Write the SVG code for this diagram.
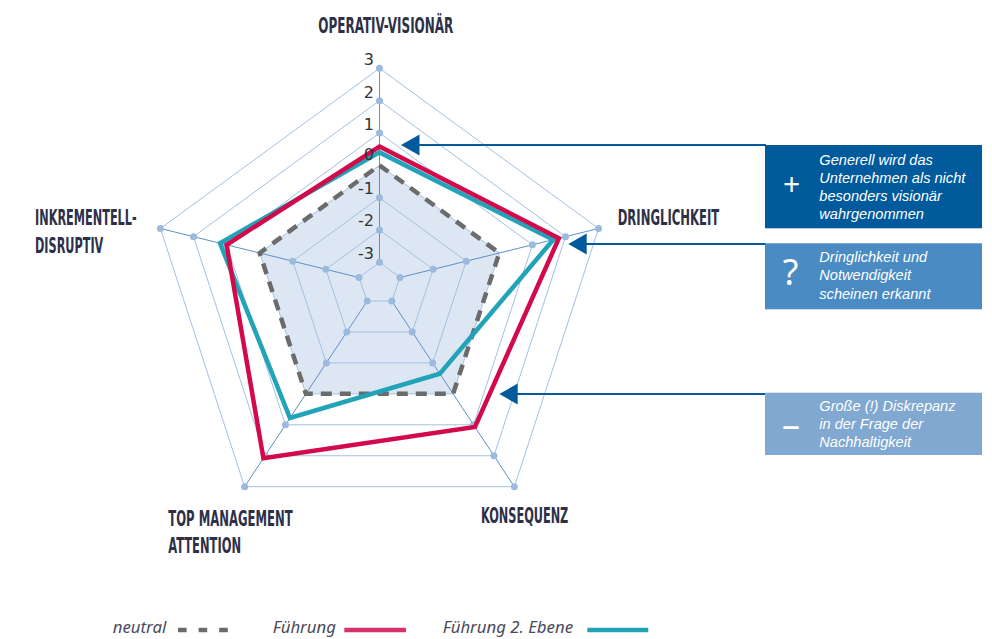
<svg xmlns="http://www.w3.org/2000/svg" width="992" height="639" viewBox="0 0 992 639">
<style>
.ring{fill:none;stroke:#a3c0e2;stroke-width:1}
.spoke{stroke:#5b90c8;stroke-width:1}
.dot{fill:#9bbadd}
.num{font-family:"DejaVu Sans",sans-serif;font-size:16px;fill:#333;text-anchor:end}
.axis{font-family:"Liberation Sans Narrow","DejaVu Sans Condensed","Liberation Sans",sans-serif;font-weight:bold;font-size:21px;fill:#2d3047}
.box-t{font-family:"Liberation Sans","Noto Sans",sans-serif;font-style:italic;font-size:14.6px;fill:#fff}
.sym{font-family:"Noto Sans","DejaVu Sans",sans-serif;fill:#fff;text-anchor:middle}
.leg{font-family:"Noto Sans","Open Sans",sans-serif;font-style:italic;font-size:16.8px;fill:#4a4b5c}
.conn{stroke:#005a9c;stroke-width:2;fill:none}
.head{fill:#005a9c}
</style>
<rect width="992" height="639" fill="#fff"/>
<g id="radar-grid">
<polygon points="379.5,165.31 499.3,252.99 453.09,393.85 305.91,393.85 259.7,252.99" fill="#dde7f3"/>
<polygon class="ring" points="379.5,262.3 400,277.5 391.8,301 367.2,301 359,277.5"/>
<polygon class="ring" points="379.5,229.97 433.1,269.33 412.23,331.95 346.77,331.95 325.9,269.33"/>
<polygon class="ring" points="379.5,197.64 466.2,261.16 432.66,362.9 326.34,362.9 292.8,261.16"/>
<polygon class="ring" points="379.5,165.31 499.3,252.99 453.09,393.85 305.91,393.85 259.7,252.99"/>
<polygon class="ring" points="379.5,132.98 532.4,244.82 473.52,424.8 285.48,424.8 226.6,244.82"/>
<polygon class="ring" points="379.5,100.65 565.5,236.65 493.95,455.75 265.05,455.75 193.5,236.65"/>
<polygon class="ring" points="379.5,68.32 598.6,228.48 514.38,486.7 244.62,486.7 160.4,228.48"/>
<line class="spoke" x1="379.5" y1="262.3" x2="379.5" y2="68.32"/>
<line class="spoke" x1="400" y1="277.5" x2="598.6" y2="228.48"/>
<line class="spoke" x1="391.8" y1="301" x2="514.38" y2="486.7"/>
<line class="spoke" x1="367.2" y1="301" x2="244.62" y2="486.7"/>
<line class="spoke" x1="359" y1="277.5" x2="160.4" y2="228.48"/>
<g id="grid-dots">
<circle class="dot" cx="379.5" cy="262.3" r="3.5"/><circle class="dot" cx="400" cy="277.5" r="3.5"/><circle class="dot" cx="391.8" cy="301" r="3.5"/><circle class="dot" cx="367.2" cy="301" r="3.5"/><circle class="dot" cx="359" cy="277.5" r="3.5"/>
<circle class="dot" cx="379.5" cy="229.97" r="3.5"/><circle class="dot" cx="433.1" cy="269.33" r="3.5"/><circle class="dot" cx="412.23" cy="331.95" r="3.5"/><circle class="dot" cx="346.77" cy="331.95" r="3.5"/><circle class="dot" cx="325.9" cy="269.33" r="3.5"/>
<circle class="dot" cx="379.5" cy="197.64" r="3.5"/><circle class="dot" cx="466.2" cy="261.16" r="3.5"/><circle class="dot" cx="432.66" cy="362.9" r="3.5"/><circle class="dot" cx="326.34" cy="362.9" r="3.5"/><circle class="dot" cx="292.8" cy="261.16" r="3.5"/>
<circle class="dot" cx="379.5" cy="132.98" r="3.5"/><circle class="dot" cx="532.4" cy="244.82" r="3.5"/><circle class="dot" cx="473.52" cy="424.8" r="3.5"/><circle class="dot" cx="285.48" cy="424.8" r="3.5"/><circle class="dot" cx="226.6" cy="244.82" r="3.5"/>
<circle class="dot" cx="379.5" cy="100.65" r="3.5"/><circle class="dot" cx="565.5" cy="236.65" r="3.5"/><circle class="dot" cx="493.95" cy="455.75" r="3.5"/><circle class="dot" cx="265.05" cy="455.75" r="3.5"/><circle class="dot" cx="193.5" cy="236.65" r="3.5"/>
<circle class="dot" cx="379.5" cy="68.32" r="3.5"/><circle class="dot" cx="598.6" cy="228.48" r="3.5"/><circle class="dot" cx="514.38" cy="486.7" r="3.5"/><circle class="dot" cx="244.62" cy="486.7" r="3.5"/><circle class="dot" cx="160.4" cy="228.48" r="3.5"/>
</g>
</g>
<g id="series-neutral">
<polygon points="379.5,165.31 499.3,252.99 453.09,393.85 305.91,393.85 259.7,252.99" fill="none" stroke="#6b6b6b" stroke-width="4.5" stroke-dasharray="11 8" stroke-linejoin="miter"/>
</g>
<g id="series-fuehrung2">
<polygon points="379.5,152.38 553.25,239.67 439.81,373.73 289.97,417.99 219.98,243.19" fill="none" stroke="#22a3b8" stroke-width="4.5" stroke-linejoin="miter"/>
</g>
<g id="series-fuehrung">
<polygon points="379.5,146.56 558.88,238.28 474.95,426.97 263.42,458.23 226.6,244.82" fill="none" stroke="#d20a4b" stroke-width="4.5" stroke-linejoin="miter"/>
</g>
<g id="scale-labels">
<text class="num" x="374" y="65">3</text>
<text class="num" x="374" y="98">2</text>
<text class="num" x="374" y="130">1</text>
<text class="num" x="374" y="160">0</text>
<text class="num" x="374" y="194">-1</text>
<text class="num" x="374" y="226">-2</text>
<text class="num" x="374" y="258.5">-3</text>
</g>
<g id="axis-labels">
<text class="axis" x="318.3" y="33.3" textLength="135" lengthAdjust="spacingAndGlyphs">OPERATIV-VISIONÄR</text>
<text class="axis" x="617.7" y="225" textLength="101.6" lengthAdjust="spacingAndGlyphs">DRINGLICHKEIT</text>
<text class="axis" x="35" y="225" textLength="101.7" lengthAdjust="spacingAndGlyphs">INKREMENTELL-</text>
<text class="axis" x="35" y="253.3" textLength="68.3" lengthAdjust="spacingAndGlyphs">DISRUPTIV</text>
<text class="axis" x="168.3" y="526" textLength="124.4" lengthAdjust="spacingAndGlyphs">TOP MANAGEMENT</text>
<text class="axis" x="168.3" y="553.3" textLength="72.7" lengthAdjust="spacingAndGlyphs">ATTENTION</text>
<text class="axis" x="481" y="523.3" textLength="87.3" lengthAdjust="spacingAndGlyphs">KONSEQUENZ</text>
</g>
<g id="connectors">
<line class="conn" x1="415" y1="145" x2="766" y2="145"/>
<polygon class="head" points="401,145 419.5,134.5 419.5,155.5"/>
<line class="conn" x1="582" y1="244" x2="766" y2="244"/>
<polygon class="head" points="568.3,244 586.7,233.5 586.7,254.5"/>
<line class="conn" x1="513" y1="394" x2="766" y2="394"/>
<polygon class="head" points="499.3,394 517.7,383.5 517.7,404.5"/>
</g>
<g id="box-plus">
<rect x="765" y="145" width="217" height="83.3" fill="#005a9c"/>
<text class="sym" x="791.7" y="195" font-size="30">+</text>
<text class="box-t" x="819.3" y="165">Generell wird das</text>
<text class="box-t" x="819.3" y="183">Unternehmen als nicht</text>
<text class="box-t" x="819.3" y="201">besonders visionär</text>
<text class="box-t" x="819.3" y="219">wahrgenommen</text>
</g>
<g id="box-question">
<rect x="765" y="243.3" width="217" height="66" fill="#4b8bc3"/>
<text class="sym" x="790.5" y="285" font-size="36">?</text>
<text class="box-t" x="819.3" y="262">Dringlichkeit und</text>
<text class="box-t" x="819.3" y="280.3">Notwendigkeit</text>
<text class="box-t" x="819.3" y="299">scheinen erkannt</text>
</g>
<g id="box-minus">
<rect x="765" y="392.7" width="217" height="62.3" fill="#80a8d0"/>
<text class="sym" x="791" y="437" font-size="36">–</text>
<text class="box-t" x="819.3" y="411" fill="#eef3f9">Große (!) Diskrepanz</text>
<text class="box-t" x="819.3" y="429.3">in der Frage der</text>
<text class="box-t" x="819.3" y="447">Nachhaltigkeit</text>
</g>
<g id="legend">
<text class="leg" x="112.7" y="633">neutral</text>
<line x1="178" y1="630" x2="228.5" y2="630" stroke="#6b6b6b" stroke-width="4.3" stroke-dasharray="8.6 12"/>
<text class="leg" x="272.7" y="633">Führung</text>
<line x1="344.3" y1="630" x2="406" y2="630" stroke="#d5336a" stroke-width="4.3"/>
<text class="leg" x="442.7" y="633">Führung 2. Ebene</text>
<line x1="587.3" y1="630" x2="648.3" y2="630" stroke="#22a3b8" stroke-width="4.3"/>
</g>
</svg>
